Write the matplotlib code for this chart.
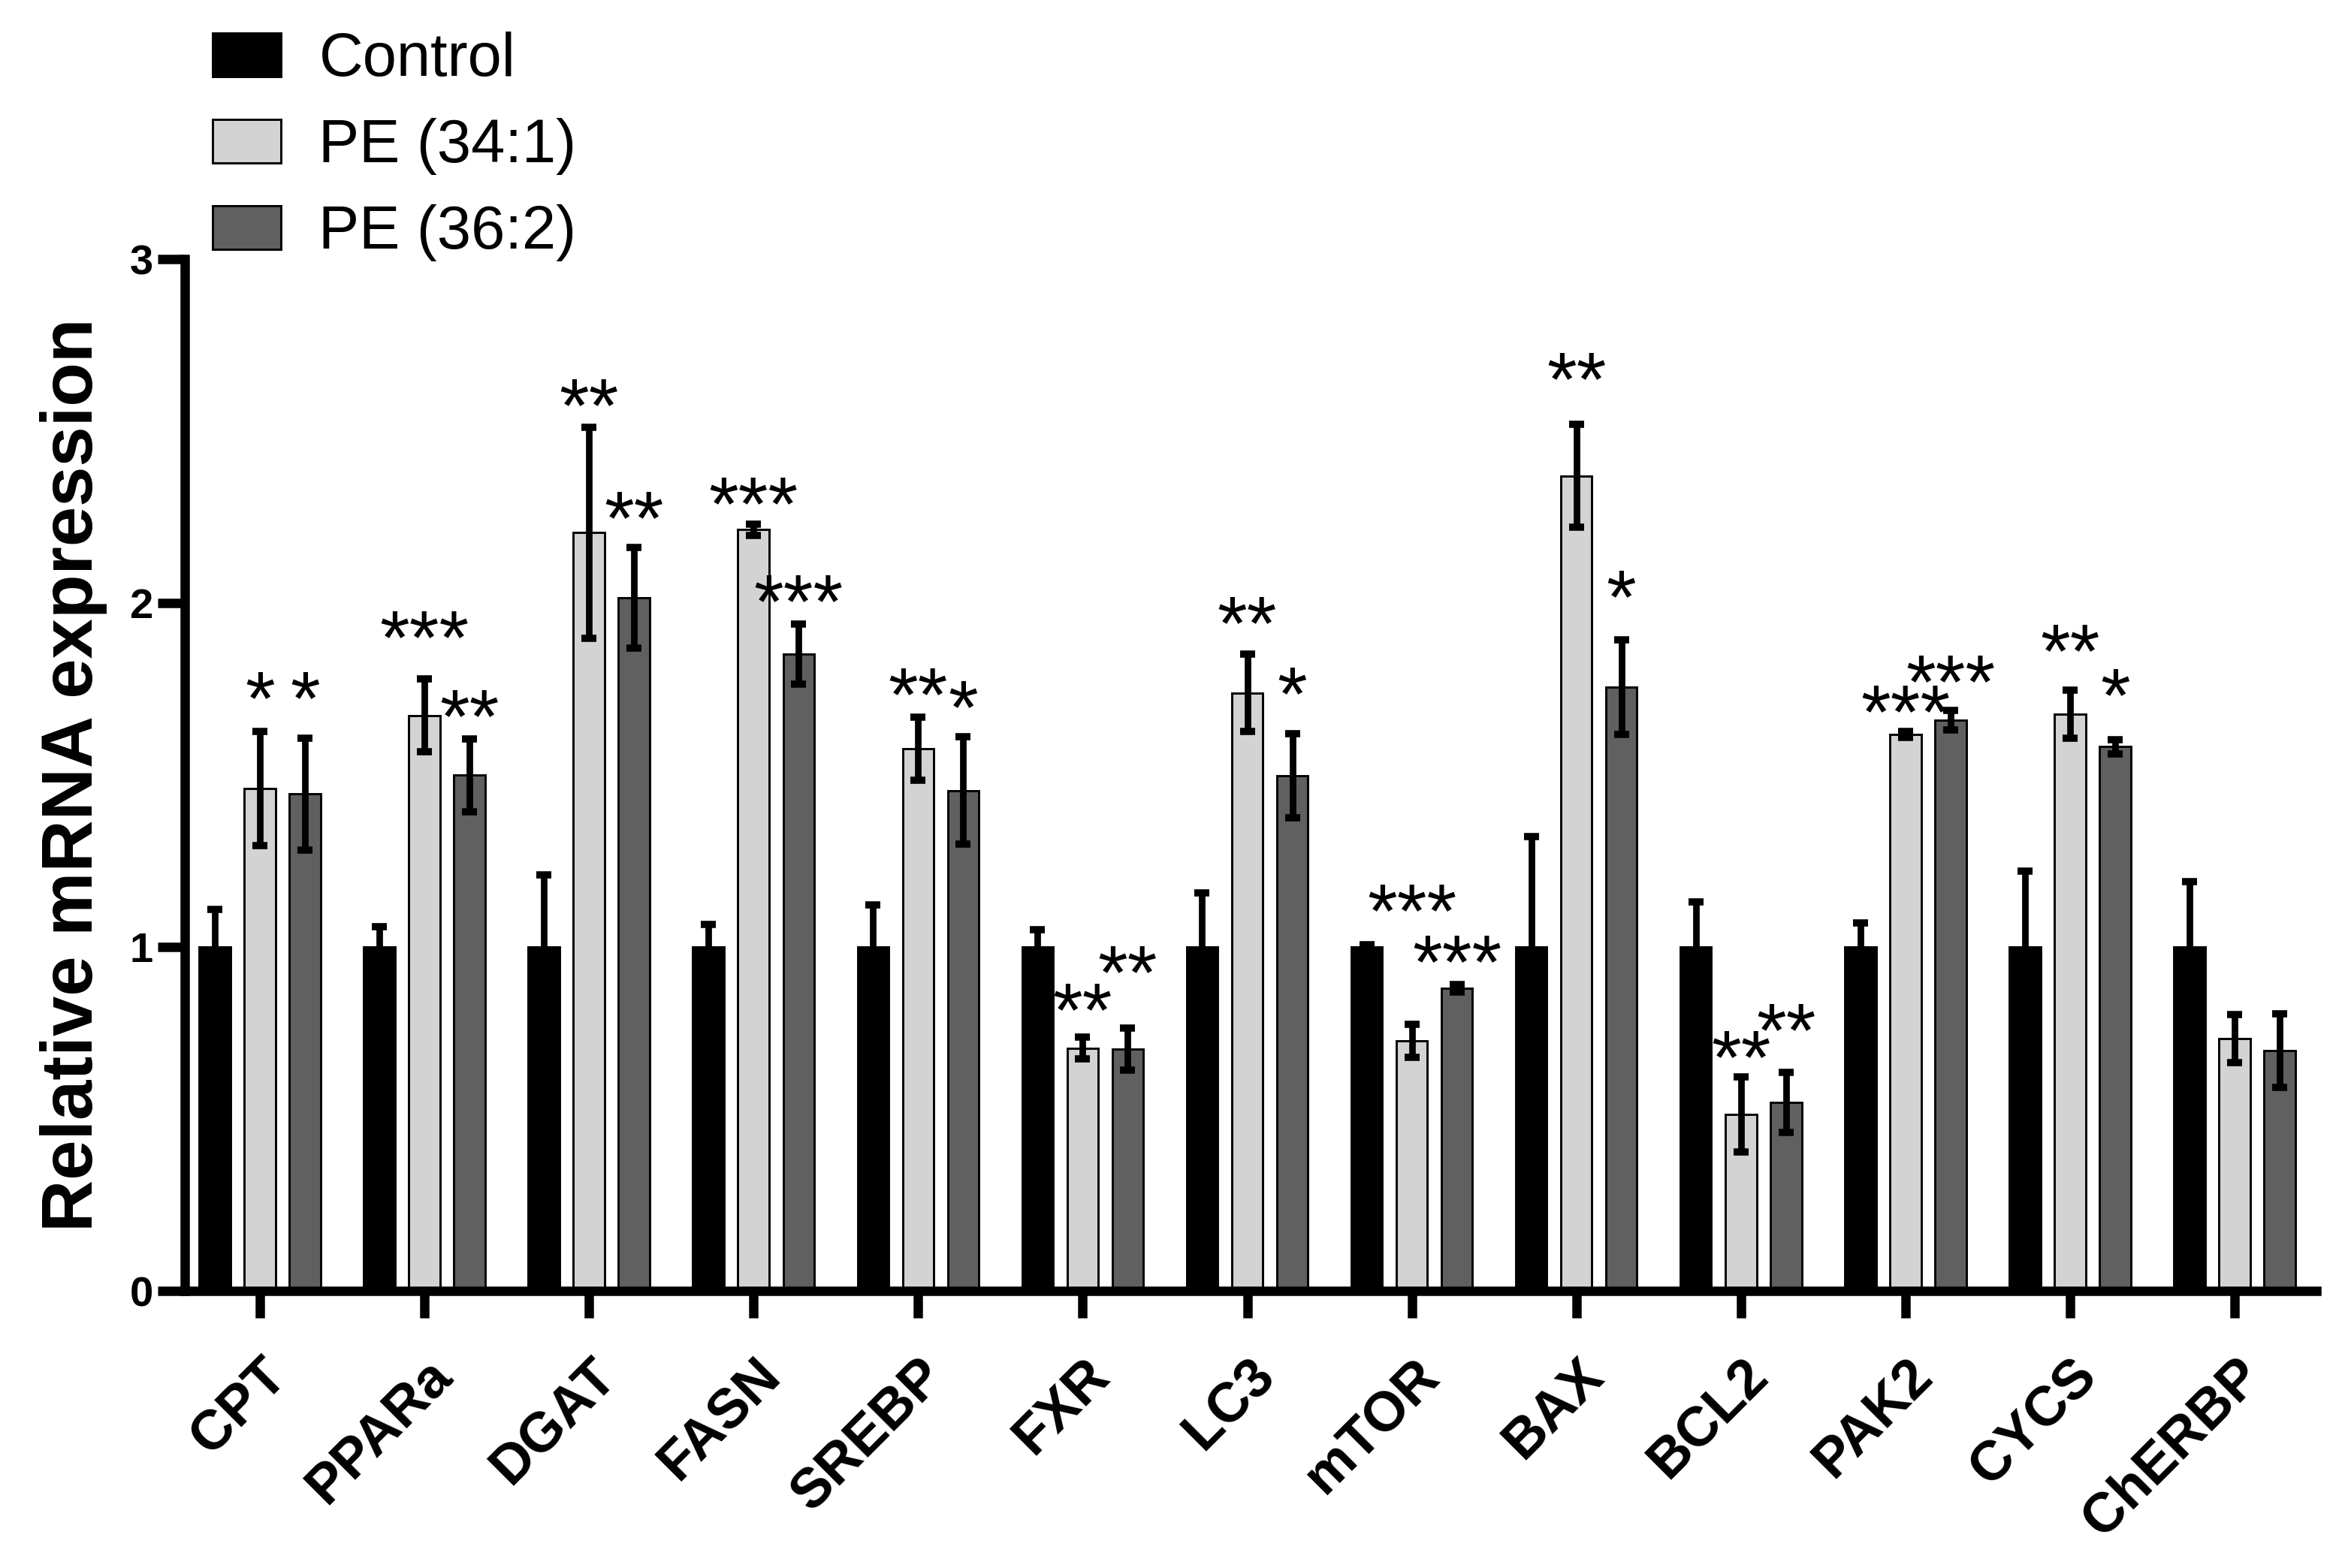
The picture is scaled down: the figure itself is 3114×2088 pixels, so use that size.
import numpy as np
import matplotlib.pyplot as plt

plt.rcParams['font.family'] = ['Liberation Sans', 'DejaVu Sans']

genes = ['CPT', 'PPARa', 'DGAT', 'FASN', 'SREBP', 'FXR', 'LC3',
         'mTOR', 'BAX', 'BCL2', 'PAK2', 'CYCS', 'ChERBP']
series = ['Control', 'PE (34:1)', 'PE (36:2)']

control = [1.0, 1.0, 1.0, 1.0, 1.0, 1.0, 1.0, 1.0, 1.0, 1.0, 1.0, 1.0, 1.0]
control_err = [0.11, 0.06, 0.21, 0.066, 0.122, 0.05, 0.157, 0.006, 0.322,
               0.131, 0.07, 0.22, 0.19]

pe341 = [1.46, 1.673, 2.205, 2.213, 1.576, 0.706, 1.739, 0.727, 2.37,
         0.513, 1.618, 1.677, 0.734]
pe341_err = [0.166, 0.106, 0.307, 0.017, 0.092, 0.032, 0.113, 0.048, 0.15,
             0.11, 0.009, 0.07, 0.07]

pe362 = [1.445, 1.499, 2.015, 1.851, 1.455, 0.704, 1.497, 0.88, 1.755,
         0.548, 1.66, 1.582, 0.699]
pe362_err = [0.163, 0.105, 0.147, 0.087, 0.156, 0.061, 0.122, 0.011, 0.138,
             0.087, 0.028, 0.02, 0.107]

# significance marks and the height of their centres
stars341 = ['*', '***', '**', '***', '**', '**', '**', '***', '**', '**',
            '***', '**', '']
stars341_y = [1.752, 1.93, 2.604, 2.318, 1.764, 0.846, 1.971, 1.136, 2.68,
              0.709, 1.713, 1.89, 0]
stars362 = ['*', '**', '**', '***', '*', '**', '*', '***', '*', '**',
            '***', '*', '']
stars362_y = [1.752, 1.70, 2.278, 2.034, 1.727, 0.955, 1.767, 0.986, 2.047,
              0.787, 1.80, 1.762, 0]

colors = ['black', '#d3d3d3', '#606060']

fig = plt.figure(figsize=(3114 / 300, 2088 / 300), dpi=300)
ax = fig.add_axes([246 / 3114, 1 - 1719 / 2088,
                   (3084 - 246) / 3114, (1719 - 345) / 2088])

x = np.arange(len(genes))
offsets = [-0.274, 0, 0.274]
width = 0.19

means = [control, pe341, pe362]
errs = [control_err, pe341_err, pe362_err]

handles = []
for k in range(3):
    b = ax.bar(x + offsets[k], means[k], width, color=colors[k],
               edgecolor='black', linewidth=0.7, zorder=2, label=series[k])
    handles.append(b)
    ax.errorbar(x + offsets[k], means[k], yerr=errs[k], fmt='none',
                ecolor='black', elinewidth=2.1, capsize=2.4, capthick=2.3,
                zorder=3)

star_fs = 24.5
for stars, ys, k in [(stars341, stars341_y, 1), (stars362, stars362_y, 2)]:
    for i in range(len(genes)):
        if stars[i]:
            ax.annotate(stars[i], (x[i] + offsets[k], ys[i]),
                        xytext=(0, -0.47 * star_fs), textcoords='offset points',
                        ha='center', va='baseline', fontsize=star_fs)

ax.set_xlim(-0.457, len(genes) - 1 + 0.498)
ax.set_ylim(0, 3)
ax.set_yticks([0, 1, 2, 3])
ax.set_xticks(x)
ax.set_xticklabels(genes, rotation=45, ha='right', rotation_mode='anchor',
                   fontsize=17.7, fontweight='bold')
for lab in ax.get_yticklabels():
    lab.set_fontweight('bold')
ax.tick_params(axis='y', labelsize=13.5, width=3, length=8.6, pad=1.5)
ax.tick_params(axis='x', width=3, length=8.6, pad=10)

for s in ['top', 'right']:
    ax.spines[s].set_visible(False)
for s in ['left', 'bottom']:
    ax.spines[s].set_linewidth(3)
ax.spines['left'].set_bounds(0, 3)

ax.set_ylabel('Relative mRNA expression', fontsize=23, fontweight='bold',
              labelpad=7)

fig.legend(handles, series, loc='upper left',
           bbox_to_anchor=(283 / 3114, 1 - 42 / 2088), frameon=False,
           borderpad=0, borderaxespad=0, fontsize=19.5, handlelength=1.12,
           handleheight=0.72, handletextpad=0.62, labelspacing=0.48)

fig.savefig('out.png', dpi=300)
